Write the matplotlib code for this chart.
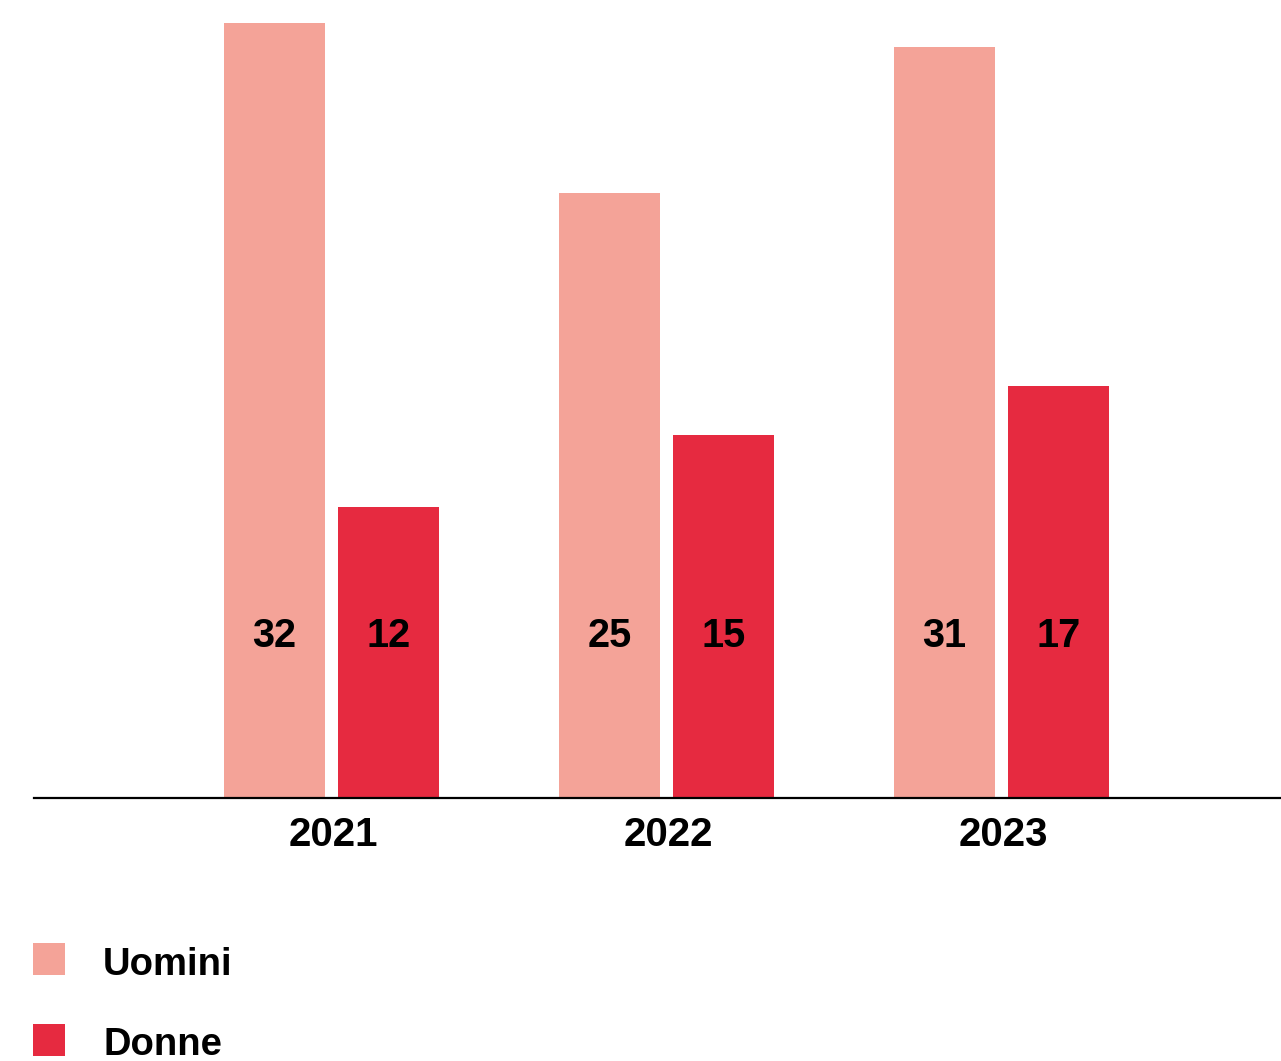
import matplotlib
matplotlib.use("Agg")
import matplotlib.pyplot as plt
import numpy as np
from matplotlib.patches import Rectangle

years = ["2021", "2022", "2023"]
series_names = ["Uomini", "Donne"]
uomini = [32, 25, 31]
donne = [12, 15, 17]
colors = ["#F4A398", "#E62A40"]

plt.rcParams['font.family'] = ['Liberation Sans', 'DejaVu Sans']
W, H = 1281, 1061
fig = plt.figure(figsize=(W / 100, H / 100), dpi=100)

scale = 775 / 32.0  # pixels per unit
ax = fig.add_axes([34 / W, (H - 798) / H, (W - 34) / W, 798 / H])

x = np.arange(len(years))
bw = 101 / 335
off = 57 / 335
for vals, c, dx in [(uomini, colors[0], -off), (donne, colors[1], off)]:
    ax.bar(x + dx, vals, width=bw, color=c, linewidth=0, zorder=2)
    for xi, v in zip(x + dx, vals):
        ax.text(xi, 151 / scale, str(v), ha='center', va='baseline',
                fontsize=28.5, fontweight='bold', color='black', zorder=3)

ax.set_xlim(-297.5 / 335, (1281 - 331.5) / 335)
ax.set_ylim(0, 798 / scale)
for s in ['top', 'right', 'left']:
    ax.spines[s].set_visible(False)
ax.spines['bottom'].set_linewidth(1.6)
ax.spines['bottom'].set_color('black')
ax.spines['bottom'].set_zorder(4)
ax.set_yticks([])
ax.set_xticks(x + 1.5 / 335)
ax.set_xticklabels(years, fontsize=29, fontweight='bold')
ax.tick_params(axis='x', length=0, pad=13)

# legend
for name, c, top, base in [(series_names[0], colors[0], 943, 975),
                           (series_names[1], colors[1], 1024, 1055)]:
    fig.add_artist(Rectangle((33 / W, (H - top - 32) / H), 32 / W, 32 / H,
                             transform=fig.transFigure, color=c, linewidth=0))
    fig.text(103 / W, (H - base) / H, name, ha='left', va='baseline',
             fontsize=27.5, fontweight='bold', color='black')

fig.savefig("out.png", dpi=100, facecolor='white')
